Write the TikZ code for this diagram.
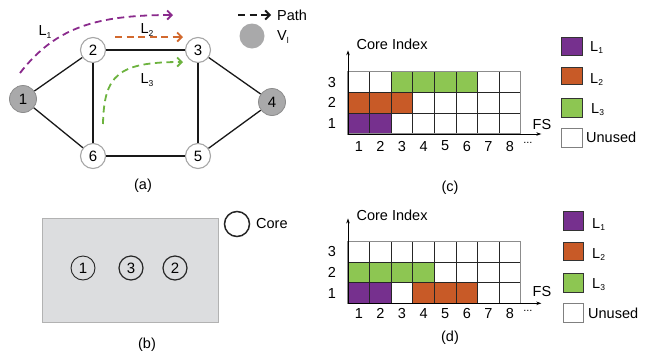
\documentclass[tikz,border=0pt]{standalone}
\usepackage{fontspec}
\setmainfont{Liberation Sans}
\usetikzlibrary{arrows.meta}

\definecolor{lpurple}{HTML}{76308E}
\definecolor{lorange}{HTML}{C85A27}
\definecolor{lgreen}{HTML}{8DC652}
\definecolor{dpurple}{HTML}{8A2A8C}
\definecolor{dorange}{HTML}{D2692E}
\definecolor{dgreen}{HTML}{6DB33F}
\definecolor{nodegrey}{HTML}{A9A9AA}
\definecolor{panelgrey}{HTML}{DCDDDF}

\newcommand\txt{\fontsize{14.5}{17}\selectfont}
\newcommand\lsub[1]{\raisebox{-2.5pt}{\fontsize{8.5}{9}\selectfont#1}}

\tikzset{
  every node/.style={font=\txt, inner sep=0pt},
  vtx/.style={circle, draw=black!35, line width=1.1pt, fill=white, minimum size=25pt, font=\fontsize{15}{17}\selectfont},
  gvtx/.style={circle, draw=black!45, line width=0.8pt, fill=nodegrey, minimum size=27pt, font=\fontsize{15}{17}\selectfont},
  link/.style={line width=1.3pt, black!90},
  pathline/.style={line width=1.8pt, dash pattern=on 7pt off 4.5pt,
    -{Straight Barb[length=4.5pt,width=9pt]}},
  core/.style={circle, draw=black!85, line width=1.2pt, minimum size=24pt, font=\fontsize{15}{17}\selectfont},
  gridin/.style={black!85, line width=0.7pt},
  gridout/.style={black!45, line width=1.1pt},
  axis/.style={black, line width=0.8pt, -{Stealth[length=5pt,width=3.5pt]}},
  keybox/.style={draw=black!80, line width=0.8pt},
}

\begin{document}
\begin{tikzpicture}[x=1pt,y=-1pt]
\useasboundingbox (0,0) rectangle (653,354);

% ---------- (a) network ----------
\node[gvtx] (n1) at (23,99) {1};
\node[vtx]  (n2) at (93,50) {2};
\node[vtx]  (n3) at (198,50) {3};
\node[gvtx] (n4) at (272,102) {4};
\node[vtx]  (n5) at (198,156) {5};
\node[vtx]  (n6) at (93,156) {6};
\draw[link] (n1) -- (n2);
\draw[link] (n1) -- (n6);
\draw[link] (n2) -- (n3);
\draw[link] (n2) -- (n6);
\draw[link] (n3) -- (n4);
\draw[link] (n3) -- (n5);
\draw[link] (n4) -- (n5);
\draw[link] (n6) -- (n5);

% lightpaths
\coordinate (p1s) at (20,73);  \coordinate (p1e) at (173,15);
\coordinate (p2s) at (115,37); \coordinate (p2e) at (183,37);
\coordinate (p3s) at (103,124); \coordinate (p3e) at (183,62);
\draw[pathline, dpurple] (p1s) .. controls (55,28) and (95,15) .. (p1e);
\draw[pathline, dorange] (p2s) -- (p2e);
\draw[pathline, dgreen] (p3s) .. controls (104,75) and (118,62) .. (p3e);
\node (l1) at (45,32) {L\lsub{1}};
\node (l2) at (147,30) {L\lsub{2}};
\node (l3) at (147,80) {L\lsub{3}};

% legend of (a)
\coordinate (kps) at (238,15); \coordinate (kpe) at (271,15);
\draw[pathline, black!90] (kps) -- (kpe);
\node[anchor=west] (kpath) at (277,15) {Path};
\node[gvtx, minimum size=25pt, draw=none] (kv) at (252,36) {};
\node[anchor=west] (kvl) at (277,37) {V\lsub{l}};
\node (capa) at (143,186) {(a)};

% ---------- (b) fibre cross-section ----------
\filldraw[fill=panelgrey, draw=black!30, line width=0.8pt] (42,218) rectangle (218,322);
\node[core, line width=0.9pt] (c1) at (83,268) {1};
\node[core] (c3) at (131,268) {3};
\node[core] (c2) at (175,268) {2};
\node[core, minimum size=25pt, line width=1.5pt] (kcore) at (237,224) {};
\node[anchor=west] (kcoret) at (256,224) {Core};
\node (capb) at (147,345) {(b)};

% ---------- (c) spectrum before ----------
\begin{scope}[shift={(348,134)}, x=21.6pt, y=20.75pt]
  \foreach \c/\r/\col in {1/1/lpurple,2/1/lpurple,1/2/lorange,2/2/lorange,3/2/lorange,
                          3/3/lgreen,4/3/lgreen,5/3/lgreen,6/3/lgreen}
    \fill[\col] (\c-1,\r-1) rectangle (\c,\r);
  \draw[gridin] (0,0) grid[step={(1,1)}] (8,3);
  \draw[gridout] (0,0) rectangle (8,3);
  \coordinate (co) at (0,0);
  \coordinate (cy) at (0,4.03);
  \coordinate (cx) at (8.95,0);
  \draw[axis] (co) -- (cy);
  \draw[axis] (co) -- (cx);
  \foreach \i in {1,...,8} \node (ccol\i) at (\i-0.5,-0.58) {\i};
  \foreach \j in {1,2,3} \node (crow\j) at (-0.74,\j-0.5) {\j};
  \node (cdots) at (8.33,-0.5) {\fontsize{11}{11}\selectfont\raisebox{2pt}{...}};
  \node (cfs) at (8.98,0.48) {FS};
  \node (cci) at (2.04,4.3) {Core Index};
\end{scope}
\fill[lpurple] (561,37) rectangle (582,55);   \draw[keybox] (561,37) rectangle (582,55);
\fill[lorange] (561,67) rectangle (582,84);   \draw[keybox] (561,67) rectangle (582,84);
\fill[lgreen]  (561,98) rectangle (582,117);  \draw[keybox] (561,98) rectangle (582,117);
\draw[black!50, line width=1pt] (561,128) rectangle (582,147);
\node[anchor=base west] (ckl1) at (590,51) {L\lsub{1}};
\node[anchor=base west] (ckl2) at (590,83) {L\lsub{2}};
\node[anchor=base west] (ckl3) at (591,113) {L\lsub{3}};
\node[anchor=base west] (cku) at (586,142) {Unused};
\node (capc) at (450,188) {(c)};

% ---------- (d) spectrum after ----------
\begin{scope}[shift={(348,303.3)}, x=21.6pt, y=20.55pt]
  \foreach \c/\r/\col in {1/1/lpurple,2/1/lpurple,4/1/lorange,5/1/lorange,6/1/lorange,
                          1/2/lgreen,2/2/lgreen,3/2/lgreen,4/2/lgreen}
    \fill[\col] (\c-1,\r-1) rectangle (\c,\r);
  \draw[gridin] (0,0) grid[step={(1,1)}] (8,3);
  \draw[gridout] (0,0) rectangle (8,3);
  \coordinate (do) at (0,0);
  \coordinate (dy) at (0,4.13);
  \coordinate (dx) at (8.95,0);
  \draw[axis] (do) -- (dy);
  \draw[axis] (do) -- (dx);
  \foreach \i in {1,...,8} \node (dcol\i) at (\i-0.5,-0.5) {\i};
  \foreach \j in {1,2,3} \node (drow\j) at (-0.74,\j-0.5) {\j};
  \node (ddots) at (8.33,-0.42) {\fontsize{11}{11}\selectfont\raisebox{2pt}{...}};
  \node (dfs) at (8.98,0.55) {FS};
  \node (dci) at (2.04,4.3) {Core Index};
\end{scope}
\fill[lpurple] (563,211) rectangle (583,230); \draw[keybox] (563,211) rectangle (583,230);
\fill[lorange] (563,242) rectangle (583,260); \draw[keybox] (563,242) rectangle (583,260);
\fill[lgreen]  (563,273) rectangle (583,292); \draw[keybox] (563,273) rectangle (583,292);
\draw[black!50, line width=1pt] (563,303) rectangle (583,322);
\node[anchor=base west] (dkl1) at (592,228) {L\lsub{1}};
\node[anchor=base west] (dkl2) at (592,258) {L\lsub{2}};
\node[anchor=base west] (dkl3) at (592,288) {L\lsub{3}};
\node[anchor=base west] (dku) at (588,318) {Unused};
\node (capd) at (450,338) {(d)};
\end{tikzpicture}
\end{document}
